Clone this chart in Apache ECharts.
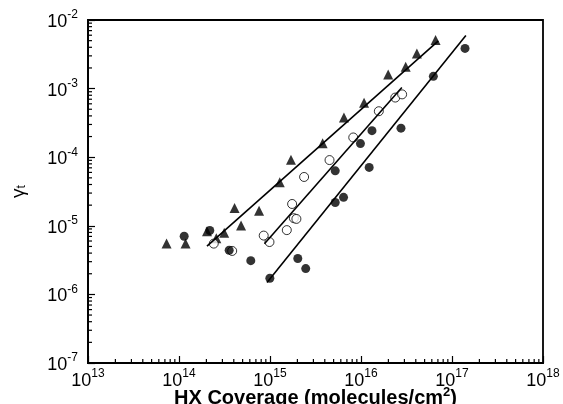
<!DOCTYPE html>
<html>
<head>
<meta charset="utf-8">
<script src="https://cdn.jsdelivr.net/npm/echarts@6/dist/echarts.min.js"></script>
<style>
  html, body { margin: 0; padding: 0; background: #fff; }
  #chart { width: 563px; height: 404px; }
</style>
</head>
<body>
<div id="chart"></div>
<script>
// HX coverage (molecules/cm2) vs uptake coefficient gamma_t

// Filled triangles
var triX = [7.3e13, 1.18e14, 2.03e14, 2.57e14, 3.14e14, 4.08e14, 4.81e14, 7.58e14, 1.28e15,
            1.70e15, 3.79e15, 6.49e15, 1.08e16, 1.99e16, 3.10e16, 4.11e16, 6.6e16];
var triY = [5.5e-6, 5.5e-6, 8.3e-6, 6.6e-6, 7.9e-6, 1.81e-5, 1.01e-5, 1.66e-5, 4.3e-5,
            9.2e-5, 1.6e-4, 3.8e-4, 6.2e-4, 1.6e-3, 2.08e-3, 3.26e-3, 5.1e-3];

// Open circles
var openX = [2.41e14, 3.84e14, 8.53e14, 9.87e14, 1.53e15, 1.75e15, 1.83e15, 1.95e15, 2.37e15,
             4.51e15, 8.22e15, 1.57e16, 2.38e16, 2.83e16];
var openY = [5.5e-6, 4.3e-6, 7.2e-6, 5.8e-6, 8.65e-6, 2.08e-5, 1.29e-5, 1.26e-5, 5.15e-5,
             9.08e-5, 1.94e-4, 4.68e-4, 7.4e-4, 8.24e-4];

// Filled circles
var dotX = [1.14e14, 2.18e14, 3.56e14, 6.15e14, 9.96e14, 2.02e15, 2.47e15, 5.21e15, 6.43e15,
            5.21e15, 9.86e15, 1.23e16, 1.32e16, 2.75e16, 6.24e16, 1.39e17];
var dotY = [7.05e-6, 8.55e-6, 4.4e-6, 3.1e-6, 1.72e-6, 3.34e-6, 2.38e-6, 2.19e-5, 2.6e-5,
            6.33e-5, 1.58e-4, 7.1e-5, 2.44e-4, 2.65e-4, 1.51e-3, 3.85e-3];

// Fit lines (end points)
var fitTriX = [2.03e14, 7.08e16];
var fitTriY = [5.04e-6, 4.97e-3];
var fitOpenX = [8.69e14, 2.81e16];
var fitOpenY = [5.47e-6, 1.04e-3];
var fitDotX = [9.27e14, 1.42e17];
var fitDotY = [1.49e-6, 5.96e-3];

// Axis ranges (decades)
var xDecades = [13, 14, 15, 16, 17, 18];
var yDecades = [-7, -6, -5, -4, -3, -2];

function pairs(xs, ys) {
    var out = [];
    for (var i = 0; i < xs.length; i++) out.push([xs[i], ys[i]]);
    return out;
}

// minor tick positions 2..9 x 10^n
function minorTicks(decades) {
    var out = [];
    for (var i = 0; i < decades.length - 1; i++) {
        for (var m = 2; m <= 9; m++) out.push(m * Math.pow(10, decades[i]));
    }
    return out;
}

var FONT = '"Liberation Sans", Arial, sans-serif';
var powRich = {
    base: { fontSize: 18, fontFamily: FONT, color: '#000', lineHeight: 22, verticalAlign: 'bottom' },
    sup: { fontSize: 12, fontFamily: FONT, color: '#000', lineHeight: 22, verticalAlign: 'top', padding: [0, 0, 7, 0] }
};
function powLabel(v) {
    return '{base|10}{sup|' + Math.round(Math.log10(v)) + '}';
}

var chart = echarts.init(document.getElementById('chart'));

var xMinor = minorTicks(xDecades);
var yMinor = minorTicks(yDecades);

chart.setOption({
    animation: false,
    textStyle: { fontFamily: FONT },
    grid: {
        left: 88, right: 20, top: 20, bottom: 41,
        outerBoundsMode: 'none',
        containLabel: false,
        show: true, borderColor: '#000', borderWidth: 1.8, backgroundColor: 'transparent'
    },
    xAxis: {
        type: 'log',
        logBase: 10,
        min: 1e13,
        max: 1e18,
        axisLine: { lineStyle: { color: '#000', width: 1.8 } },
        axisTick: { inside: true, length: 7, lineStyle: { color: '#000', width: 1.2 } },
        splitLine: { show: false },
        axisLabel: { formatter: powLabel, rich: powRich, margin: 5 },
        name: 'HX Coverage (molecules/cm{s|2})',
        nameLocation: 'middle',
        nameMoveOverlap: false,
        nameGap: 23,
        nameTextStyle: {
            fontSize: 20, fontWeight: 'bold', color: '#000', fontFamily: FONT, lineHeight: 24,
            rich: {
                s: { fontSize: 13, fontWeight: 'bold', color: '#000', fontFamily: FONT, lineHeight: 24, verticalAlign: 'top', padding: [0, 0, 9, 0] }
            }
        }
    },
    yAxis: {
        type: 'log',
        logBase: 10,
        min: 1e-7,
        max: 1e-2,
        axisLine: { lineStyle: { color: '#000', width: 1.8 } },
        axisTick: { inside: true, length: 7, lineStyle: { color: '#000', width: 1.2 } },
        splitLine: { show: false },
        axisLabel: { formatter: powLabel, rich: powRich, margin: 10 },
        name: 'γ{s|t}',
        nameLocation: 'middle',
        nameMoveOverlap: false,
        nameGap: 60,
        nameRotate: 90,
        nameTextStyle: {
            fontSize: 19, color: '#000', fontFamily: FONT,
            rich: {
                s: { fontSize: 12, color: '#000', fontFamily: FONT, verticalAlign: 'bottom', padding: [7, 0, 0, 0] }
            }
        }
    },
    series: [
        {
            // x minor ticks
            type: 'custom',
            silent: true,
            clip: false,
            data: xMinor.map(function (v) { return [v, 1e-7]; }),
            renderItem: function (params, api) {
                var p = api.coord([api.value(0), api.value(1)]);
                return { type: 'line', shape: { x1: p[0], y1: p[1], x2: p[0], y2: p[1] - 4 },
                         style: { stroke: '#000', lineWidth: 1.2 } };
            }
        },
        {
            // y minor ticks
            type: 'custom',
            silent: true,
            clip: false,
            data: yMinor.map(function (v) { return [1e13, v]; }),
            renderItem: function (params, api) {
                var p = api.coord([api.value(0), api.value(1)]);
                return { type: 'line', shape: { x1: p[0], y1: p[1], x2: p[0] + 4, y2: p[1] },
                         style: { stroke: '#000', lineWidth: 1.2 } };
            }
        },
        {
            type: 'line', data: pairs(fitTriX, fitTriY), showSymbol: false, symbol: 'none',
            lineStyle: { color: '#000', width: 1.6 }
        },
        {
            type: 'line', data: pairs(fitOpenX, fitOpenY), showSymbol: false, symbol: 'none',
            lineStyle: { color: '#000', width: 1.6 }
        },
        {
            type: 'line', data: pairs(fitDotX, fitDotY), showSymbol: false, symbol: 'none',
            lineStyle: { color: '#000', width: 1.6 }
        },
        {
            type: 'scatter', data: pairs(triX, triY), symbol: 'triangle', symbolSize: 10,
            itemStyle: { color: '#000' }
        },
        {
            type: 'scatter', data: pairs(openX, openY), symbol: 'circle', symbolSize: 9,
            itemStyle: { color: '#fff', borderColor: '#000', borderWidth: 1 }
        },
        {
            type: 'scatter', data: pairs(dotX, dotY), symbol: 'circle', symbolSize: 9,
            itemStyle: { color: '#000' }
        }
    ]
});
</script>
</body>
</html>
